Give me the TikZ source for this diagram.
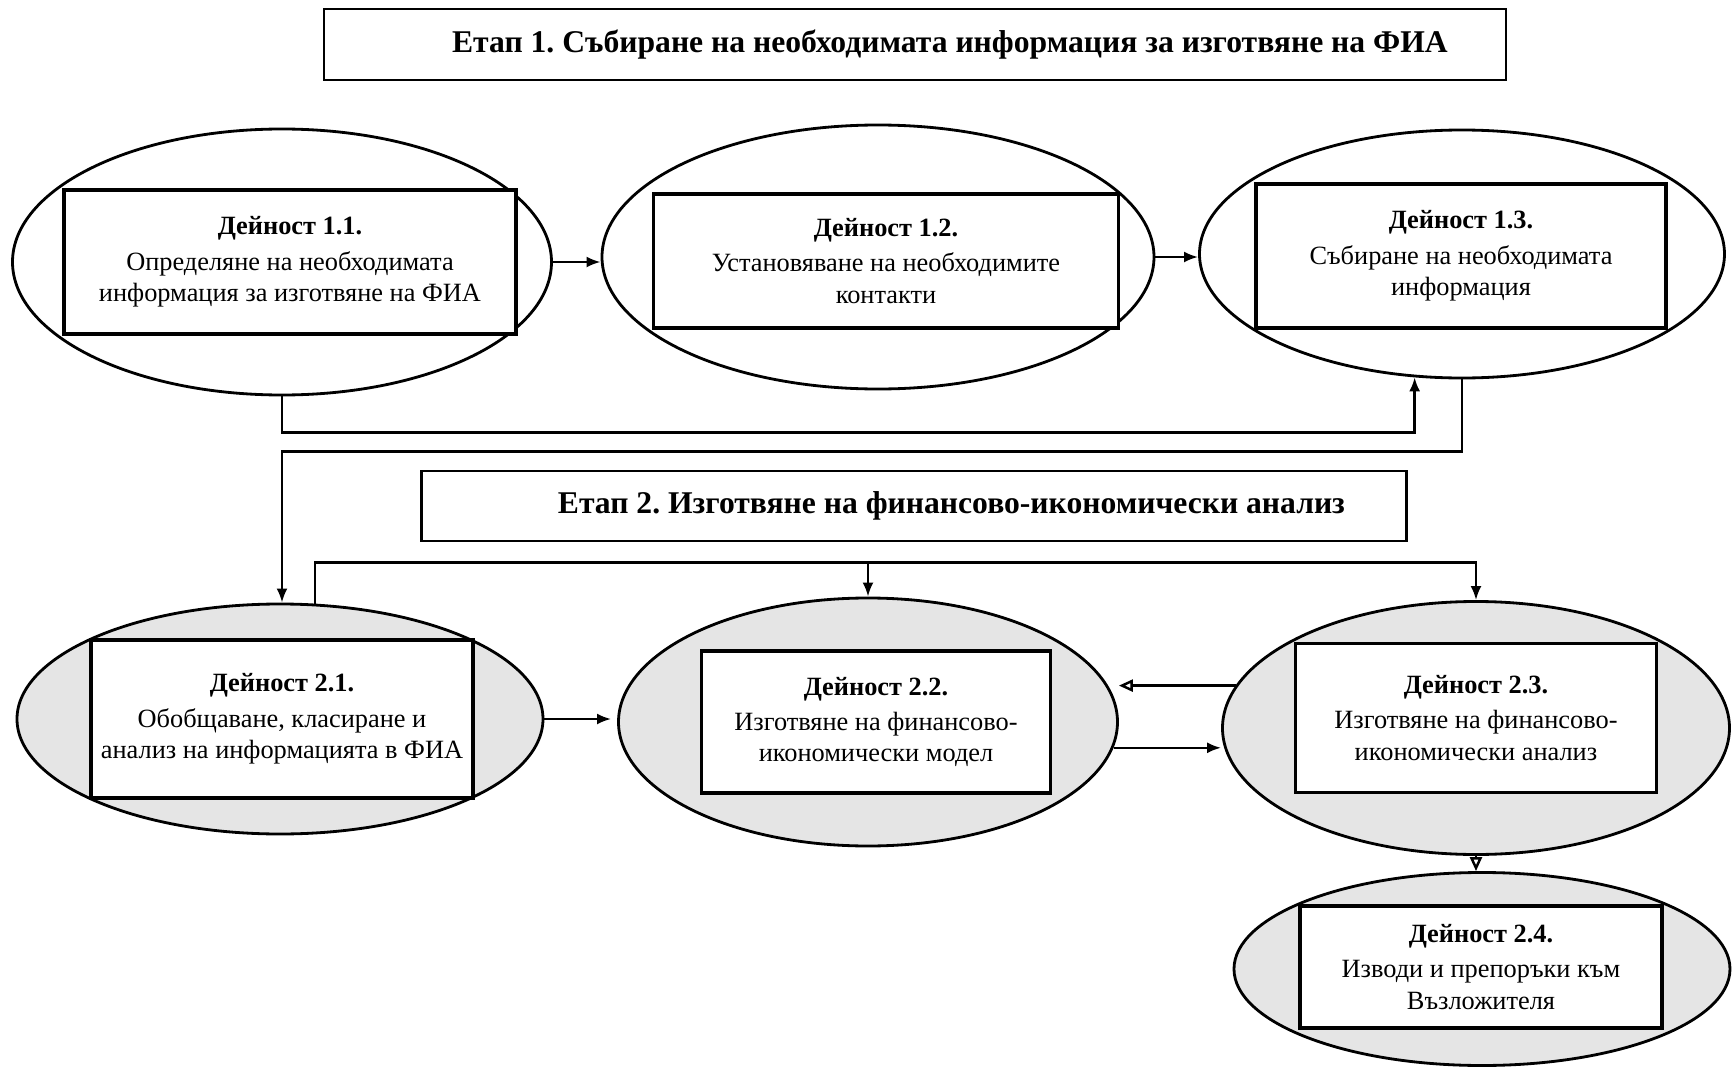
\documentclass[tikz,border=0pt]{standalone}
\usepackage{fontspec}
\setmainfont{Liberation Serif}
\usetikzlibrary{shapes.geometric,arrows.meta}

\tikzset{
  phase/.style={draw, line width=0.8pt, inner sep=0pt, font=\bfseries\fontsize{9}{11}\selectfont},
  oval/.style={draw, ellipse, line width=0.8pt, inner sep=0pt},
  shaded/.style={oval, fill=gray!20},
  act/.style={draw, fill=white, line width=0.9pt, inner sep=0pt, align=center, font=\fontsize{7.5}{9}\selectfont},
  arr/.style={-{Latex[length=1.4mm,width=1.1mm]}, line width=0.7pt},
  oarr/.style={-{Triangle[open,length=1.4mm,width=1.2mm]}, line width=0.7pt},
}
\newcommand{\acttitle}[1]{\textbf{Дейност #1}\\[1pt]}

\begin{document}
\begin{tikzpicture}[x=0.1mm, y=-0.1mm]
			\useasboundingbox (0,0) rectangle (1732,1070);
			% stage 1
			\node[phase, minimum width=118.2mm, minimum height=7.1mm] (st1) at (915,44.5) {\hspace*{7mm}Етап 1.\ Събиране на необходимата информация за изготвяне на ФИА};
			\node[oval, minimum width=53.9mm, minimum height=26.6mm] (e11) at (282,262) {};
			\node[oval, minimum width=55.2mm, minimum height=26.4mm] (e12) at (878,257) {};
			\node[oval, minimum width=52.5mm, minimum height=24.8mm] (e13) at (1462,254) {};
			\node[act, minimum width=45.2mm, minimum height=14.4mm] (b11) at (290,262) {\acttitle{1.1.}Определяне на необходимата\\ информация за изготвяне на ФИА};
			\node[act, minimum width=46.5mm, minimum height=13.4mm] (b12) at (886,261) {\acttitle{1.2.}Установяване на необходимите\\ контакти};
			\node[act, minimum width=41mm, minimum height=14.4mm] (b13) at (1461,256) {\acttitle{1.3.}Събиране на необходимата\\ информация};
			% stage 2
			\node[phase, minimum width=98.5mm, minimum height=7mm] (st2) at (914,506) {\hspace*{7.5mm}Етап 2.\ Изготвяне на финансово-икономически анализ};
			\node[shaded, minimum width=52.6mm, minimum height=23mm] (e21) at (280,719) {};
			\node[shaded, minimum width=49.9mm, minimum height=24.8mm] (e22) at (868,722) {};
			\node[shaded, minimum width=50.7mm, minimum height=25.3mm] (e23) at (1476,728) {};
			\node[shaded, minimum width=49.6mm, minimum height=19.3mm] (e24) at (1482,969) {};
			\node[act, minimum width=38.2mm, minimum height=15.8mm] (b21) at (282,719) {\acttitle{2.1.}Обобщаване, класиране и\\ анализ на информацията в ФИА};
			\node[act, minimum width=34.9mm, minimum height=14.2mm] (b22) at (876,722) {\acttitle{2.2.}Изготвяне на финансово-\\ икономически модел};
			\node[act, minimum width=36.1mm, minimum height=14.9mm] (b23) at (1476,718) {\acttitle{2.3.}Изготвяне на финансово-\\ икономически анализ};
			\node[act, minimum width=36.2mm, minimum height=12.2mm] (b24) at (1481,967) {\acttitle{2.4.}Изводи и препоръки към\\ Възложителя};
			% connectors
			\draw[arr] (e11.east) -- (e11.east -| e12.west);
			\draw[arr] (e12.east) -- (e12.east -| e13.west);
			\draw[arr] (e11.south) -- ++(0,36) -| (e13.249);
			\draw[arr] (e13.south) -- ++(0,72) -| (e21.north -| e11.south);
			\draw[arr] (e21.73) -- ++(0,-41) coordinate (bus) -| (e23.north);
			\draw[arr] (bus -| e22.north) -- (e22.north);
			\draw[arr, shorten >=0.6mm] (e21.east) -- (e21.east -| e22.west);
			\draw[oarr] (e23.170) -- (e23.170 -| e22.east);
			\draw[arr] (e22.-6) -- (e22.-6 -| e23.west);
			\draw[oarr] (e23.south) -- (e23.south |- e24.north);
		\end{tikzpicture}
\end{document}
